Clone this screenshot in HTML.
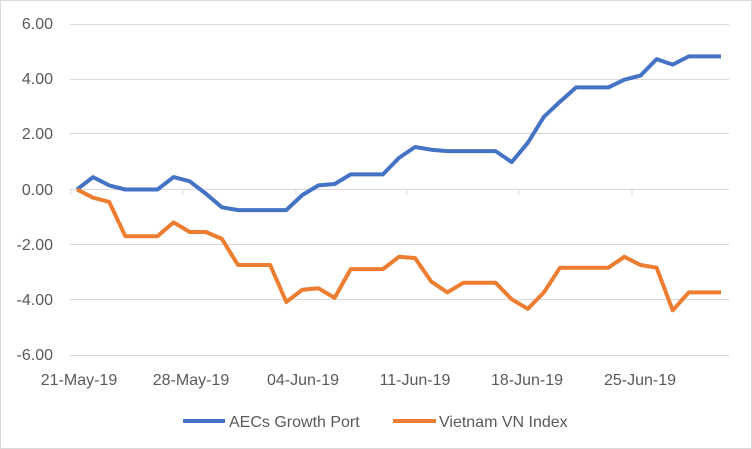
<!DOCTYPE html>
<html><head><style>
body{margin:0;background:#fff;}
svg{display:block;font-family:"Liberation Sans",sans-serif;}
</style></head><body>
<svg width="752" height="449" xmlns="http://www.w3.org/2000/svg">
<rect x="0.5" y="0.5" width="751" height="448" fill="#fff" stroke="#d9d9d9"/>
<g stroke="#d9d9d9" stroke-width="1">
<line x1="70" x2="729" y1="24.5" y2="24.5"/>
<line x1="70" x2="729" y1="79.5" y2="79.5"/>
<line x1="70" x2="729" y1="133.5" y2="133.5"/>
<line x1="70" x2="729" y1="189.5" y2="189.5"/>
<line x1="70" x2="729" y1="244.5" y2="244.5"/>
<line x1="70" x2="729" y1="299.5" y2="299.5"/>
<line x1="70" x2="729" y1="355.5" y2="355.5"/>
<line x1="71" x2="71" y1="189" y2="195"/><line x1="183" x2="183" y1="189" y2="195"/><line x1="296" x2="296" y1="189" y2="195"/><line x1="407" x2="407" y1="189" y2="195"/><line x1="519" x2="519" y1="189" y2="195"/><line x1="632" x2="632" y1="189" y2="195"/>
</g>
<g fill="#595959" font-size="16" text-anchor="end">
<text x="53" y="29">6.00</text><text x="53" y="84">4.00</text><text x="53" y="139">2.00</text><text x="53" y="195">0.00</text><text x="53" y="250">-2.00</text><text x="53" y="305">-4.00</text><text x="53" y="360">-6.00</text>
</g>
<g fill="#595959" font-size="16" text-anchor="middle">
<text x="79" y="385">21-May-19</text><text x="191" y="385">28-May-19</text><text x="303" y="385">04-Jun-19</text><text x="415" y="385">11-Jun-19</text><text x="527" y="385">18-Jun-19</text><text x="640" y="385">25-Jun-19</text>
</g>
<polyline id="b" fill="none" stroke="#4472c4" stroke-width="4" stroke-linejoin="round" points=""/>
<polyline id="o" fill="none" stroke="#ed7d31" stroke-width="4" stroke-linejoin="round" points=""/>
<line x1="183" x2="225" y1="421" y2="421" stroke="#4472c4" stroke-width="4"/>
<text x="229" y="427" fill="#595959" font-size="16">AECs Growth Port</text>
<line x1="393" x2="436" y1="421" y2="421" stroke="#ed7d31" stroke-width="4"/>
<text x="439" y="427" fill="#595959" font-size="16">Vietnam VN Index</text>
<script>
var B=[0,0.45,0.15,0,0,0,0.45,0.3,-0.15,-0.65,-0.75,-0.75,-0.75,-0.75,-0.2,0.15,0.2,0.55,0.55,0.55,1.15,1.55,1.45,1.4,1.4,1.4,1.4,1.0,1.7,2.65,3.2,3.72,3.72,3.72,4.0,4.15,4.75,4.55,4.85,4.85,4.85];
var O=[0,-0.3,-0.45,-1.7,-1.7,-1.7,-1.2,-1.55,-1.55,-1.8,-2.75,-2.75,-2.75,-4.1,-3.65,-3.6,-3.95,-2.9,-2.9,-2.9,-2.45,-2.5,-3.35,-3.75,-3.4,-3.4,-3.4,-4.0,-4.35,-3.75,-2.85,-2.85,-2.85,-2.85,-2.45,-2.75,-2.85,-4.4,-3.75,-3.75,-3.75];
function p(a){return a.map(function(v,i){return (77+16.1*i).toFixed(1)+","+(189.5-27.45*v).toFixed(1)}).join(" ");}
document.getElementById("b").setAttribute("points",p(B));
document.getElementById("o").setAttribute("points",p(O));
</script>
</svg>
</body></html>
